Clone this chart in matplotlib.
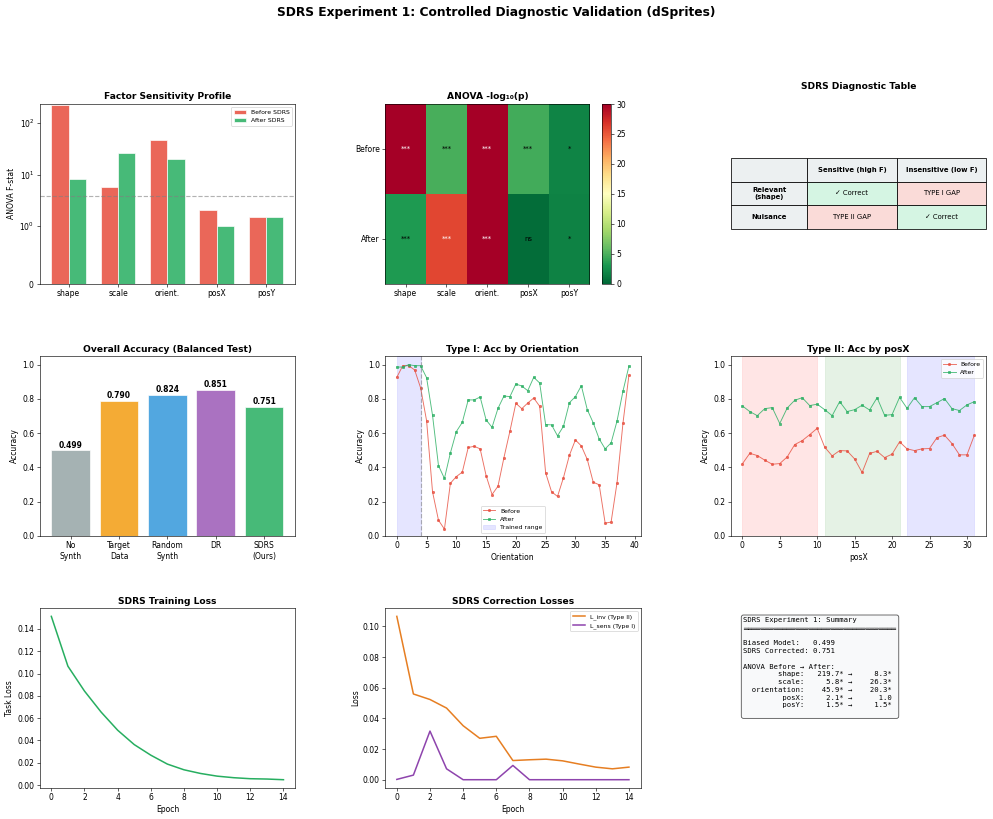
import matplotlib.pyplot as plt
import numpy as np

# ---- data ----
factors = ['shape', 'scale', 'orient.', 'posX', 'posY']
factor_names = ['shape', 'scale', 'orientation', 'posX', 'posY']
f_before = [219.7, 5.8, 45.9, 2.1, 1.5]
f_after = [8.3, 26.3, 20.3, 1.0, 1.5]
f_crit = 3.84

logp_before = [40.0, 4.9, 35.0, 4.6, 1.8]
logp_after = [3.2, 25.8, 32.0, 0.4, 1.7]
sig_before = ['***', '***', '***', '***', '*']
sig_after = ['***', '***', '***', 'ns', '*']

methods = ['No\nSynth', 'Target\nData', 'Random\nSynth', 'DR', 'SDRS\n(Ours)']
acc = [0.499, 0.790, 0.824, 0.851, 0.751]
method_colors = ['#95a5a6', '#f39c12', '#3498db', '#9b59b6', '#27ae60']

orient_before = [0.926, 0.994, 0.994, 0.969, 0.864, 0.673, 0.257, 0.091, 0.039, 0.307,
                 0.346, 0.372, 0.516, 0.523, 0.508, 0.352, 0.241, 0.290, 0.457, 0.611,
                 0.774, 0.743, 0.776, 0.805, 0.757, 0.368, 0.257, 0.230, 0.340, 0.471,
                 0.560, 0.525, 0.446, 0.313, 0.298, 0.074, 0.080, 0.311, 0.660, 0.940]
orient_after = [0.986, 0.986, 1.000, 0.994, 0.994, 0.924, 0.704, 0.410, 0.335, 0.484,
                0.609, 0.663, 0.794, 0.794, 0.811, 0.677, 0.634, 0.745, 0.817, 0.813,
                0.887, 0.875, 0.848, 0.926, 0.893, 0.650, 0.648, 0.584, 0.640, 0.778,
                0.813, 0.877, 0.737, 0.660, 0.566, 0.508, 0.543, 0.671, 0.846, 0.992]
trained_range = (0, 4)

posx_before = [0.420, 0.482, 0.469, 0.442, 0.418, 0.422, 0.461, 0.533, 0.556, 0.591,
               0.628, 0.518, 0.467, 0.498, 0.496, 0.449, 0.370, 0.481, 0.494, 0.457,
               0.477, 0.549, 0.508, 0.498, 0.508, 0.510, 0.574, 0.588, 0.539, 0.473,
               0.473, 0.589]
posx_after = [0.759, 0.726, 0.702, 0.743, 0.749, 0.656, 0.747, 0.792, 0.807, 0.761,
              0.769, 0.737, 0.702, 0.784, 0.726, 0.737, 0.763, 0.735, 0.807, 0.704,
              0.708, 0.809, 0.745, 0.807, 0.755, 0.755, 0.778, 0.802, 0.743, 0.732,
              0.765, 0.784]
posx_regions = [(0, 10), (11, 21), (22, 31)]
region_colors = ['red', 'green', 'blue']

task_loss = [0.1513, 0.1066, 0.0843, 0.0655, 0.0492, 0.0363, 0.0268, 0.0188,
             0.0137, 0.0104, 0.0080, 0.0066, 0.0057, 0.0054, 0.0048]
l_inv = [0.1065, 0.0559, 0.0523, 0.0467, 0.0352, 0.0270, 0.0283, 0.0125,
         0.0130, 0.0134, 0.0123, 0.0102, 0.0082, 0.0071, 0.0082]
l_sens = [0.0002, 0.0030, 0.0317, 0.0071, 0.0, 0.0, 0.0, 0.0093,
          0.0, 0.0, 0.0, 0.0, 0.0, 0.0, 0.0]

RED = '#e74c3c'
GREEN = '#27ae60'
DPI = 55

fig, axes = plt.subplots(3, 3, figsize=(993 / DPI, 819 / DPI))
fig.subplots_adjust(left=0.040, right=0.993, top=0.873, bottom=0.038,
                    wspace=0.353, hspace=0.403)
fig.suptitle('SDRS Experiment 1: Controlled Diagnostic Validation (dSprites)',
             fontsize=16, fontweight='bold', y=0.993)

# 1. factor sensitivity profile
ax = axes[0, 0]
x = np.arange(len(factors))
w = 0.35
ax.bar(x - w / 2, f_before, w, color=RED, alpha=0.85, edgecolor='white', label='Before SDRS')
ax.bar(x + w / 2, f_after, w, color=GREEN, alpha=0.85, edgecolor='white', label='After SDRS')
ax.axhline(f_crit, color='gray', ls='--', alpha=0.6)
ax.set_yscale('symlog', linthresh=1)
ax.set_ylim(0, max(f_before) * 1.05)
ax.set_xticks(x)
ax.set_xticklabels(factors)
ax.set_ylabel('ANOVA F-stat')
ax.set_title('Factor Sensitivity Profile', fontsize=12, fontweight='bold')
ax.legend(fontsize=8, loc='upper right')

# 2. ANOVA heatmap
ax = axes[0, 1]
mat = np.array([logp_before, logp_after])
im = ax.imshow(mat, cmap='RdYlGn_r', vmin=0, vmax=30, aspect='auto')
for i, sigs in enumerate([sig_before, sig_after]):
    for j, s in enumerate(sigs):
        ax.text(j, i, s, ha='center', va='center', fontsize=9,
                color='white' if mat[i, j] > 15 else 'black')
ax.set_xticks(x)
ax.set_xticklabels(factors)
ax.set_yticks([0, 1])
ax.set_yticklabels(['Before', 'After'])
ax.set_title('ANOVA -log₁₀(p)', fontsize=12, fontweight='bold')
plt.colorbar(im, ax=ax)

# 3. diagnostic table
ax = axes[0, 2]
ax.axis('off')
col_labels = ['', 'Sensitive (high F)', 'Insensitive (low F)']
cell_text = [['Relevant\n(shape)', '✓ Correct', 'TYPE I GAP'],
             ['Nuisance', 'TYPE II GAP', '✓ Correct']]
cell_colors = [['#ecf0f1', '#d5f5e3', '#fadbd8'],
               ['#ecf0f1', '#fadbd8', '#d5f5e3']]
tab = ax.table(cellText=cell_text, colLabels=col_labels, cellColours=cell_colors,
               colColours=['#ecf0f1'] * 3, cellLoc='center',
               colWidths=[0.3, 0.35, 0.35], bbox=[0, 0.305, 1, 0.395])
tab.auto_set_font_size(False)
tab.set_fontsize(9)
for (r, c), cell in tab.get_celld().items():
    if r == 0 or c == 0:
        cell.get_text().set_fontweight('bold')
ax.set_title('SDRS Diagnostic Table', fontsize=12, fontweight='bold', pad=20)

# 4. overall accuracy
ax = axes[1, 0]
bars = ax.bar(range(len(methods)), acc, color=method_colors, alpha=0.85, edgecolor='white')
for b, v in zip(bars, acc):
    ax.text(b.get_x() + b.get_width() / 2, v + 0.005, f'{v:.3f}',
            ha='center', va='bottom', fontsize=10, fontweight='bold')
ax.set_xticks(range(len(methods)))
ax.set_xticklabels(methods)
ax.set_ylim(0, 1.05)
ax.set_ylabel('Accuracy')
ax.set_title('Overall Accuracy (Balanced Test)', fontsize=12, fontweight='bold')

# 5. Type I: orientation
ax = axes[1, 1]
xo = np.arange(len(orient_before))
ax.plot(xo, orient_before, 'o-', color=RED, ms=3, lw=1.2, alpha=0.8, label='Before')
ax.plot(xo, orient_after, 's-', color=GREEN, ms=3, lw=1.2, alpha=0.8, label='After')
ax.axvspan(*trained_range, color='blue', alpha=0.1, label='Trained range')
ax.axvline(trained_range[1], color='gray', ls='--', alpha=0.6)
ax.set_ylim(0, 1.05)
ax.set_xlabel('Orientation')
ax.set_ylabel('Accuracy')
ax.set_title('Type I: Acc by Orientation', fontsize=12, fontweight='bold')
ax.legend(fontsize=8, loc='lower center')

# 6. Type II: posX
ax = axes[1, 2]
xp = np.arange(len(posx_before))
for (a, b), c in zip(posx_regions, region_colors):
    ax.axvspan(a, b, color=c, alpha=0.1)
ax.plot(xp, posx_before, 'o-', color=RED, ms=3, lw=1.2, alpha=0.8, label='Before')
ax.plot(xp, posx_after, 's-', color=GREEN, ms=3, lw=1.2, alpha=0.8, label='After')
ax.set_ylim(0, 1.05)
ax.set_xlabel('posX')
ax.set_ylabel('Accuracy')
ax.set_title('Type II: Acc by posX', fontsize=12, fontweight='bold')
ax.legend(fontsize=8, loc='upper right')

# 7. training loss
ax = axes[2, 0]
ax.plot(range(len(task_loss)), task_loss, color=GREEN, lw=2)
ax.set_xlabel('Epoch')
ax.set_ylabel('Task Loss')
ax.set_title('SDRS Training Loss', fontsize=12, fontweight='bold')

# 8. correction losses
ax = axes[2, 1]
ax.plot(range(len(l_inv)), l_inv, color='#e67e22', lw=2, label='L_inv (Type II)')
ax.plot(range(len(l_sens)), l_sens, color='#8e44ad', lw=2, label='L_sens (Type I)')
ax.set_xlabel('Epoch')
ax.set_ylabel('Loss')
ax.set_title('SDRS Correction Losses', fontsize=12, fontweight='bold')
ax.legend(fontsize=8, loc='upper right')

# 9. summary
ax = axes[2, 2]
ax.axis('off')
lines = ['SDRS Experiment 1: Summary', '═' * 35, '',
         f'Biased Model:   {acc[0]:.3f}',
         f'SDRS Corrected: {acc[-1]:.3f}', '',
         'ANOVA Before → After:']
for name, fb, fa, sb, sa in zip(factor_names, f_before, f_after, sig_before, sig_after):
    bs = f'{fb:.1f}' + ('*' if sb != 'ns' else '')
    as_ = f'{fa:.1f}' + ('*' if sa != 'ns' else '')
    lines.append(f'{name:>13}:{bs:>9} → {as_:>8}')
ax.text(0.05, 0.95, '\n'.join(lines) + '\n ', transform=ax.transAxes, fontsize=9.5,
        family='monospace', va='top', ha='left', linespacing=1.35,
        bbox=dict(boxstyle='round', facecolor='#f8f9fa', edgecolor='#333333', alpha=0.9))

fig.savefig('out.png', dpi=DPI)
